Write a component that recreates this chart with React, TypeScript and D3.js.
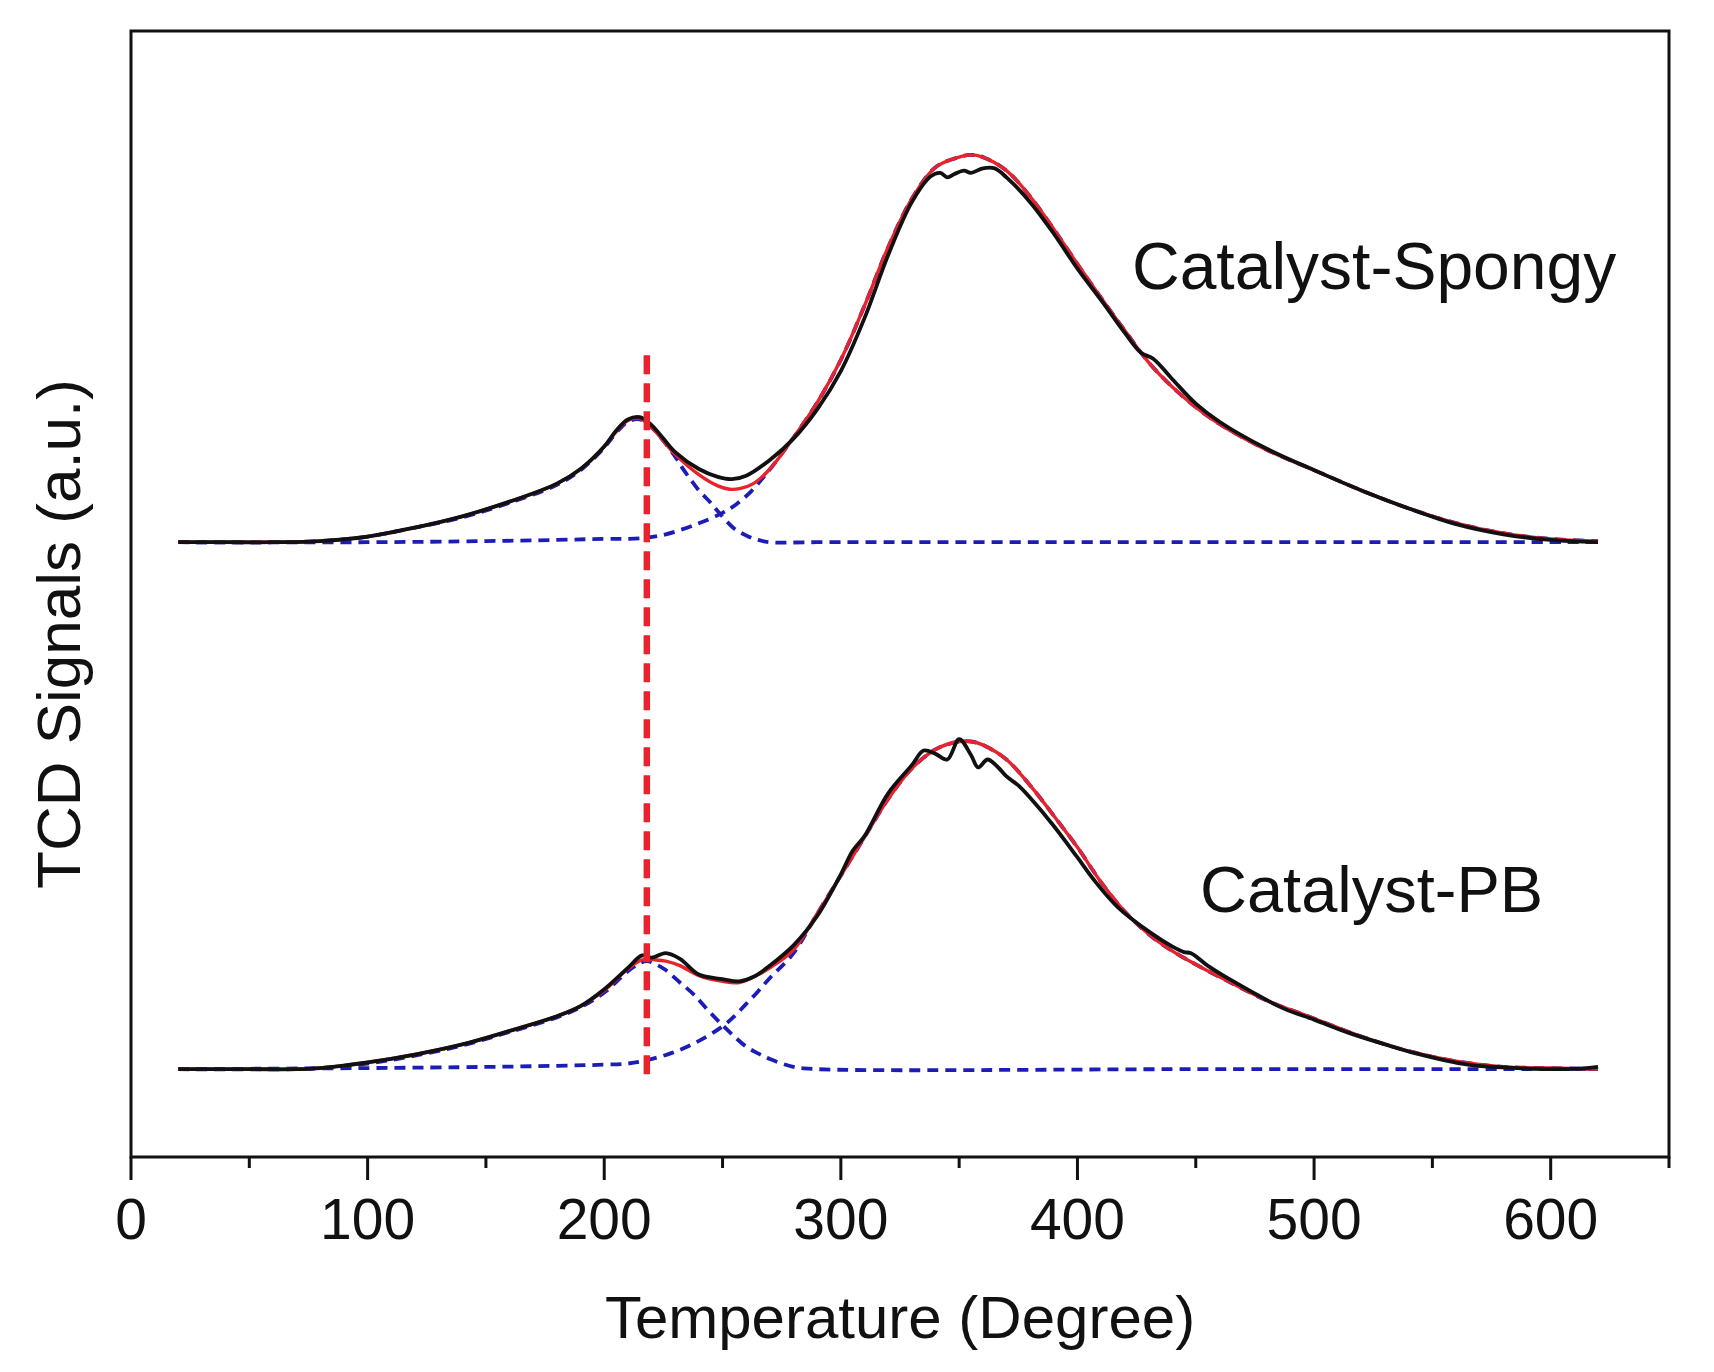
import React from "react";
import * as d3 from "d3";

// ---------- data (temperature in degree, signal in a.u.) ----------
const xTicksMajor = [0, 100, 200, 300, 400, 500, 600];
const xTicksMinor = [50, 150, 250, 350, 450, 550, 650];

const spongyOffset = 5.46;
const pbOffset = 0.78;

const spongyExp: [number, number][] = [
  [20, 0], [40, 0], [60, 0], [80, 0.01], [100, 0.05], [120, 0.13], [140, 0.23], [160, 0.36],
  [180, 0.52], [190, 0.65], [200, 0.85], [205, 0.99], [210, 1.09], [215, 1.11], [220, 1.04],
  [225, 0.92], [230, 0.8], [240, 0.65], [248, 0.58], [254, 0.56], [260, 0.59], [270, 0.73],
  [280, 0.92], [290, 1.18], [300, 1.52], [310, 1.99], [320, 2.55], [330, 3.02], [338, 3.25],
  [342, 3.28], [345, 3.24], [348, 3.27], [352, 3.3], [355, 3.28], [360, 3.32], [365, 3.32],
  [370, 3.24], [380, 3.02], [390, 2.74], [400, 2.43], [410, 2.15], [420, 1.86], [427, 1.68],
  [432, 1.63], [440, 1.45], [450, 1.23], [460, 1.07], [480, 0.83], [500, 0.64], [520, 0.46],
  [540, 0.3], [560, 0.16], [580, 0.07], [600, 0.02], [620, 0],
];

const spongyFit: [number, number][] = [
  [20, 0], [40, 0], [60, 0], [80, 0.01], [100, 0.05], [120, 0.13], [140, 0.23], [160, 0.36],
  [180, 0.52], [190, 0.65], [200, 0.85], [205, 0.98], [210, 1.08], [215, 1.1], [220, 1.02],
  [225, 0.9], [230, 0.78], [240, 0.6], [248, 0.5], [253, 0.47], [258, 0.48], [263, 0.52],
  [270, 0.65], [280, 0.93], [290, 1.24], [300, 1.62], [310, 2.1], [320, 2.62], [330, 3.05],
  [340, 3.33], [350, 3.42], [355, 3.44], [360, 3.42], [370, 3.3], [380, 3.07], [390, 2.78],
  [400, 2.47], [410, 2.17], [420, 1.88], [430, 1.6], [440, 1.38], [450, 1.2], [460, 1.05],
  [480, 0.82], [500, 0.64], [520, 0.46], [540, 0.3], [560, 0.17], [580, 0.08], [600, 0.03],
  [620, 0.01],
];

const spongyPeak1: [number, number][] = [
  [20, 0], [60, 0], [80, 0.01], [100, 0.05], [120, 0.13], [140, 0.22], [160, 0.35], [180, 0.51],
  [190, 0.64], [200, 0.84], [205, 0.97], [210, 1.07], [215, 1.09], [220, 1.02], [225, 0.9],
  [230, 0.76], [233, 0.66], [240, 0.46], [245, 0.35], [249, 0.25], [255, 0.12], [260, 0.06],
  [265, 0.02], [270, 0], [290, 0], [400, 0], [500, 0], [620, 0],
];

const spongyPeak2: [number, number][] = [
  [20, 0], [100, 0], [150, 0.01], [180, 0.02], [200, 0.03], [210, 0.03], [218, 0.04],
  [226, 0.07], [239, 0.16], [250, 0.26], [256, 0.34], [262, 0.45], [267, 0.57],
  [272, 0.7], [280, 0.93], [290, 1.24], [300, 1.62], [310, 2.1], [320, 2.62], [330, 3.05],
  [340, 3.33], [350, 3.42], [355, 3.44], [360, 3.42], [370, 3.3], [380, 3.07], [390, 2.78],
  [400, 2.47], [410, 2.17], [420, 1.88], [430, 1.6], [440, 1.38], [450, 1.2], [460, 1.05],
  [480, 0.82], [500, 0.64], [520, 0.46], [540, 0.3], [560, 0.17], [580, 0.08], [600, 0.03],
  [620, 0.01],
];

const pbExp: [number, number][] = [
  [20, 0], [50, 0], [70, 0], [80, 0.01], [100, 0.06], [120, 0.13], [140, 0.22], [160, 0.34],
  [180, 0.47], [190, 0.56], [200, 0.71], [210, 0.9], [216, 1.01], [220, 0.99], [226, 1.03],
  [232, 0.98], [240, 0.84], [250, 0.8], [257, 0.78], [264, 0.83], [270, 0.92], [280, 1.1],
  [290, 1.36], [300, 1.73], [305, 1.94], [310, 2.07], [320, 2.45], [330, 2.7], [335, 2.83],
  [340, 2.8], [345, 2.75], [350, 2.93], [355, 2.79], [358, 2.68], [362, 2.75], [366, 2.69],
  [370, 2.6], [375, 2.52], [380, 2.41], [390, 2.16], [400, 1.88], [407, 1.68], [417, 1.44],
  [431, 1.21], [440, 1.09], [445, 1.04], [448, 1.03], [455, 0.92], [465, 0.79], [487, 0.54],
  [500, 0.44], [515, 0.32], [530, 0.22], [543, 0.14], [565, 0.04], [586, 0.01], [605, 0],
  [615, 0.01], [620, 0.02],
];

const pbFit: [number, number][] = [
  [20, 0], [50, 0], [70, 0], [80, 0.01], [100, 0.06], [120, 0.13], [140, 0.22], [160, 0.34],
  [180, 0.47], [190, 0.56], [200, 0.7], [210, 0.89], [216, 0.97], [222, 0.97], [226, 0.96],
  [232, 0.92], [240, 0.83], [250, 0.78], [257, 0.77], [265, 0.84], [270, 0.9], [280, 1.06],
  [290, 1.38], [300, 1.72], [310, 2.06], [320, 2.4], [330, 2.67], [340, 2.84], [350, 2.91],
  [355, 2.91], [360, 2.88], [370, 2.75], [380, 2.52], [390, 2.25], [400, 1.97], [410, 1.66],
  [420, 1.4], [430, 1.2], [440, 1.05], [450, 0.93], [460, 0.82], [480, 0.61], [500, 0.45],
  [520, 0.29], [540, 0.16], [560, 0.07], [580, 0.02], [600, 0.01], [620, 0],
];

const pbPeak1: [number, number][] = [
  [20, 0], [70, 0], [80, 0.01], [100, 0.05], [120, 0.12], [140, 0.21], [160, 0.33], [180, 0.46],
  [190, 0.55], [200, 0.68], [210, 0.87], [215, 0.94], [218, 0.96], [222, 0.93], [226, 0.88],
  [232, 0.77], [238, 0.66], [244, 0.52], [250, 0.39], [255, 0.29], [260, 0.2], [265, 0.14],
  [270, 0.09], [280, 0.02], [290, 0], [450, 0], [620, 0],
];

const pbPeak2: [number, number][] = [
  [20, 0], [100, 0.01], [150, 0.02], [180, 0.03], [200, 0.04], [210, 0.05], [216, 0.07],
  [228, 0.14], [239, 0.24], [250, 0.38], [255, 0.47], [260, 0.58], [265, 0.69], [270, 0.81],
  [280, 1.03], [290, 1.38], [300, 1.72], [310, 2.06], [320, 2.4], [330, 2.67], [340, 2.84],
  [350, 2.91], [355, 2.91], [360, 2.88], [370, 2.75], [380, 2.52], [390, 2.25], [400, 1.97],
  [410, 1.66], [420, 1.4], [430, 1.2], [440, 1.05], [450, 0.93], [460, 0.82], [480, 0.61],
  [500, 0.45], [520, 0.29], [540, 0.16], [560, 0.07], [580, 0.02], [600, 0.01], [620, 0],
];

const markerTemp = 218;
const markerRange: [number, number] = [0.71, 7.12];

const labels = ["Catalyst-Spongy", "Catalyst-PB"];
const xTitle = "Temperature (Degree)";
const yTitle = "TCD Signals (a.u.)";

// ---------- layout ----------
const W = 1714;
const H = 1372;
const left = 131;
const right = 1669;
const top = 31;
const bottom = 1157;
const FONT = "'Liberation Sans', Arial, Helvetica, sans-serif";

export default function App() {
  const x = d3.scaleLinear().domain([0, 650]).range([left, right]);
  const y = d3.scaleLinear().domain([0, 10]).range([bottom, top]);

  const mk = (offset: number) =>
    d3
      .line<[number, number]>()
      .x((d) => x(d[0]))
      .y((d) => y(d[1] + offset))
      .curve(d3.curveCatmullRom.alpha(0.5));

  const lineS = mk(spongyOffset);
  const lineP = mk(pbOffset);

  const blue = "#1c1cb8";
  const red = "#e8232b";

  return (
    <svg
      width={W}
      height={H}
      style={{ position: "absolute", left: 0, top: 0, background: "#fff" }}
    >
      <rect x={0} y={0} width={W} height={H} fill="#fff" />

      {/* component peaks (blue dashed) */}
      {[
        lineS(spongyPeak1),
        lineS(spongyPeak2),
        lineP(pbPeak1),
        lineP(pbPeak2),
      ].map((d, i) => (
        <path
          key={"b" + i}
          d={d || ""}
          fill="none"
          stroke={blue}
          strokeWidth={3.8}
          strokeDasharray="11 7"
        />
      ))}

      {/* fits (red) */}
      <path d={lineS(spongyFit) || ""} fill="none" stroke={red} strokeWidth={3.4} />
      <path d={lineP(pbFit) || ""} fill="none" stroke={red} strokeWidth={3.4} />

      {/* experimental (black) */}
      <path d={lineS(spongyExp) || ""} fill="none" stroke="#111" strokeWidth={3.8} />
      <path d={lineP(pbExp) || ""} fill="none" stroke="#111" strokeWidth={3.8} />

      {/* red vertical marker */}
      <line
        x1={x(markerTemp)}
        x2={x(markerTemp)}
        y1={y(markerRange[1])}
        y2={y(markerRange[0])}
        stroke={red}
        strokeWidth={6.5}
        strokeDasharray="19 9"
      />

      {/* frame */}
      <rect
        x={left}
        y={top}
        width={right - left}
        height={bottom - top}
        fill="none"
        stroke="#111"
        strokeWidth={3}
      />

      {/* x ticks */}
      {xTicksMajor.map((t) => (
        <g key={"M" + t}>
          <line x1={x(t)} x2={x(t)} y1={bottom} y2={bottom + 23} stroke="#111" strokeWidth={3} />
          <text
            x={x(t)}
            y={1239}
            textAnchor="middle"
            fontFamily={FONT}
            fontSize={57}
            fill="#111"
          >
            {t}
          </text>
        </g>
      ))}
      {xTicksMinor.map((t) => (
        <line
          key={"m" + t}
          x1={x(t)}
          x2={x(t)}
          y1={bottom}
          y2={bottom + 11}
          stroke="#111"
          strokeWidth={3}
        />
      ))}

      {/* axis titles */}
      <text
        x={900}
        y={1338}
        textAnchor="middle"
        fontFamily={FONT}
        fontSize={60}
        fill="#111"
      >
        {xTitle}
      </text>
      <text
        transform={`translate(80, 634) rotate(-90)`}
        textAnchor="middle"
        fontFamily={FONT}
        fontSize={62}
        fill="#111"
      >
        {yTitle}
      </text>

      {/* curve labels */}
      <text x={1132} y={289} fontFamily={FONT} fontSize={66} fill="#111">
        {labels[0]}
      </text>
      <text x={1200} y={912} fontFamily={FONT} fontSize={65} fill="#111">
        {labels[1]}
      </text>
    </svg>
  );
}
